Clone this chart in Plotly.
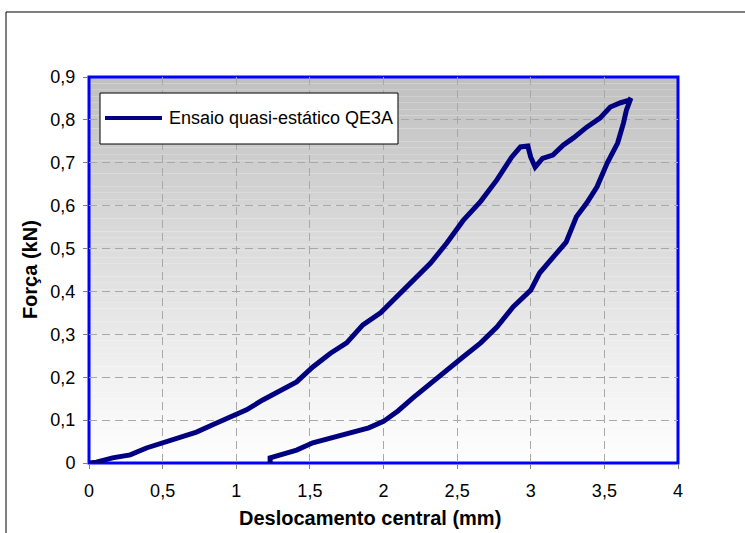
import plotly.graph_objects as go

# ---- data ----
load_x = [0.00, 0.05, 0.16, 0.28, 0.39, 0.50, 0.62, 0.73, 0.84, 0.96, 1.07, 1.18, 1.30, 1.41,
          1.52, 1.64, 1.75, 1.86, 1.98, 2.09, 2.20, 2.32, 2.43, 2.54, 2.66, 2.77, 2.87, 2.93,
          2.98, 3.00, 3.03, 3.08, 3.15, 3.22, 3.29, 3.38, 3.47, 3.54, 3.61, 3.67]
load_y = [0.000, 0.002, 0.012, 0.019, 0.035, 0.047, 0.058, 0.072, 0.089, 0.107, 0.124, 0.147,
          0.170, 0.189, 0.224, 0.256, 0.280, 0.322, 0.350, 0.387, 0.422, 0.466, 0.513, 0.565,
          0.610, 0.660, 0.713, 0.737, 0.739, 0.713, 0.690, 0.710, 0.718, 0.741, 0.758, 0.783,
          0.804, 0.830, 0.840, 0.846]
unload_x = [3.68, 3.65, 3.63, 3.59, 3.52, 3.45, 3.38, 3.31, 3.24, 3.15, 3.06, 3.00, 2.88, 2.77,
            2.66, 2.54, 2.43, 2.32, 2.20, 2.10, 2.00, 1.90, 1.80, 1.70, 1.61, 1.52, 1.41, 1.30,
            1.23, 1.23]
unload_y = [0.851, 0.823, 0.793, 0.746, 0.700, 0.644, 0.606, 0.574, 0.515, 0.480, 0.443, 0.403,
            0.364, 0.317, 0.280, 0.247, 0.217, 0.186, 0.152, 0.122, 0.097, 0.082, 0.072, 0.062,
            0.054, 0.047, 0.030, 0.019, 0.012, 0.000]

series_name = "Ensaio quasi-estático QE3A"
x_ticks = [0, 0.5, 1, 1.5, 2, 2.5, 3, 3.5, 4]
x_tick_labels = ["0", "0,5", "1", "1,5", "2", "2,5", "3", "3,5", "4"]
y_ticks = [0, 0.1, 0.2, 0.3, 0.4, 0.5, 0.6, 0.7, 0.8, 0.9]
y_tick_labels = ["0", "0,1", "0,2", "0,3", "0,4", "0,5", "0,6", "0,7", "0,8", "0,9"]

FONT = "Liberation Sans, Arial, sans-serif"
NAVY = "#000080"

fig = go.Figure()
fig.add_trace(go.Scatter(
    x=load_x + unload_x, y=load_y + unload_y, mode="lines",
    line=dict(color=NAVY, width=5), name=series_name, showlegend=False,
))

shapes = []
# gradient background of the plot area (grey at top to white at bottom)
n = 60
for i in range(n):
    y0 = 0.9 * i / n
    y1 = 0.9 * (i + 1) / n
    t = (i + 0.5) / n
    c = int(round(255 - (255 - 192) * t))
    shapes.append(dict(type="rect", xref="paper", yref="y", x0=0, x1=1, y0=y0, y1=y1,
                       fillcolor=f"rgb({c},{c},{c})", line=dict(width=0), layer="below"))
# blue plot border
shapes.append(dict(type="rect", xref="paper", yref="paper", x0=0, x1=1, y0=0, y1=1,
                   line=dict(color="#0000FF", width=3), layer="between"))
# outer chart frame
shapes.append(dict(type="rect", xref="paper", yref="paper", x0=-0.1409, x1=1.14, y0=-0.26, y1=1.1684,
                   line=dict(color="#000000", width=1), layer="above"))
# manual legend box
shapes.append(dict(type="rect", xref="paper", yref="paper", x0=0.0187, x1=0.5246, y0=0.8264, y1=0.9585,
                   fillcolor="white", line=dict(color="black", width=1), layer="above"))
shapes.append(dict(type="line", xref="paper", yref="paper", x0=0.0272, x1=0.1239, y0=0.8938, y1=0.8938,
                   line=dict(color=NAVY, width=4), layer="above"))

annotations = [
    dict(text=series_name, xref="paper", yref="paper", x=0.1324, y=0.8938, xanchor="left",
         yanchor="middle", showarrow=False, font=dict(family=FONT, size=18, color="black")),
    dict(text="<b>Deslocamento central (mm)</b>", xref="paper", yref="paper", x=0.477, y=-0.1425,
         xanchor="center", yanchor="middle", showarrow=False,
         font=dict(family=FONT, size=20, color="black")),
    dict(text="<b>Força (kN)</b>", xref="paper", yref="paper", x=-0.1, y=0.5, textangle=-90,
         xanchor="center", yanchor="middle", showarrow=False,
         font=dict(family=FONT, size=20, color="black")),
]

fig.update_layout(
    width=745, height=533,
    margin=dict(l=89, r=67, t=77, b=70),
    paper_bgcolor="white", plot_bgcolor="white",
    font=dict(family=FONT, size=18, color="black"),
    shapes=shapes, annotations=annotations, showlegend=False,
)
fig.update_xaxes(range=[0, 4], tickvals=x_ticks, ticktext=x_tick_labels, ticks="outside",
                 ticklen=5, tickcolor="#808080", showgrid=True, gridcolor="#a8a8a8",
                 griddash="8px,5px", gridwidth=1, zeroline=False, showline=False,
                 ticklabelstandoff=6, tickfont=dict(size=18))
fig.update_yaxes(range=[0, 0.9], tickvals=y_ticks, ticktext=y_tick_labels, ticks="outside",
                 ticklen=5, tickcolor="#808080", showgrid=True, gridcolor="#a8a8a8",
                 griddash="8px,5px", gridwidth=1, zeroline=False, showline=False,
                 ticklabelstandoff=4, tickfont=dict(size=18))

fig.write_html("out.html", config={"displayModeBar": False},
               post_script="document.body.style.margin='0px';")
